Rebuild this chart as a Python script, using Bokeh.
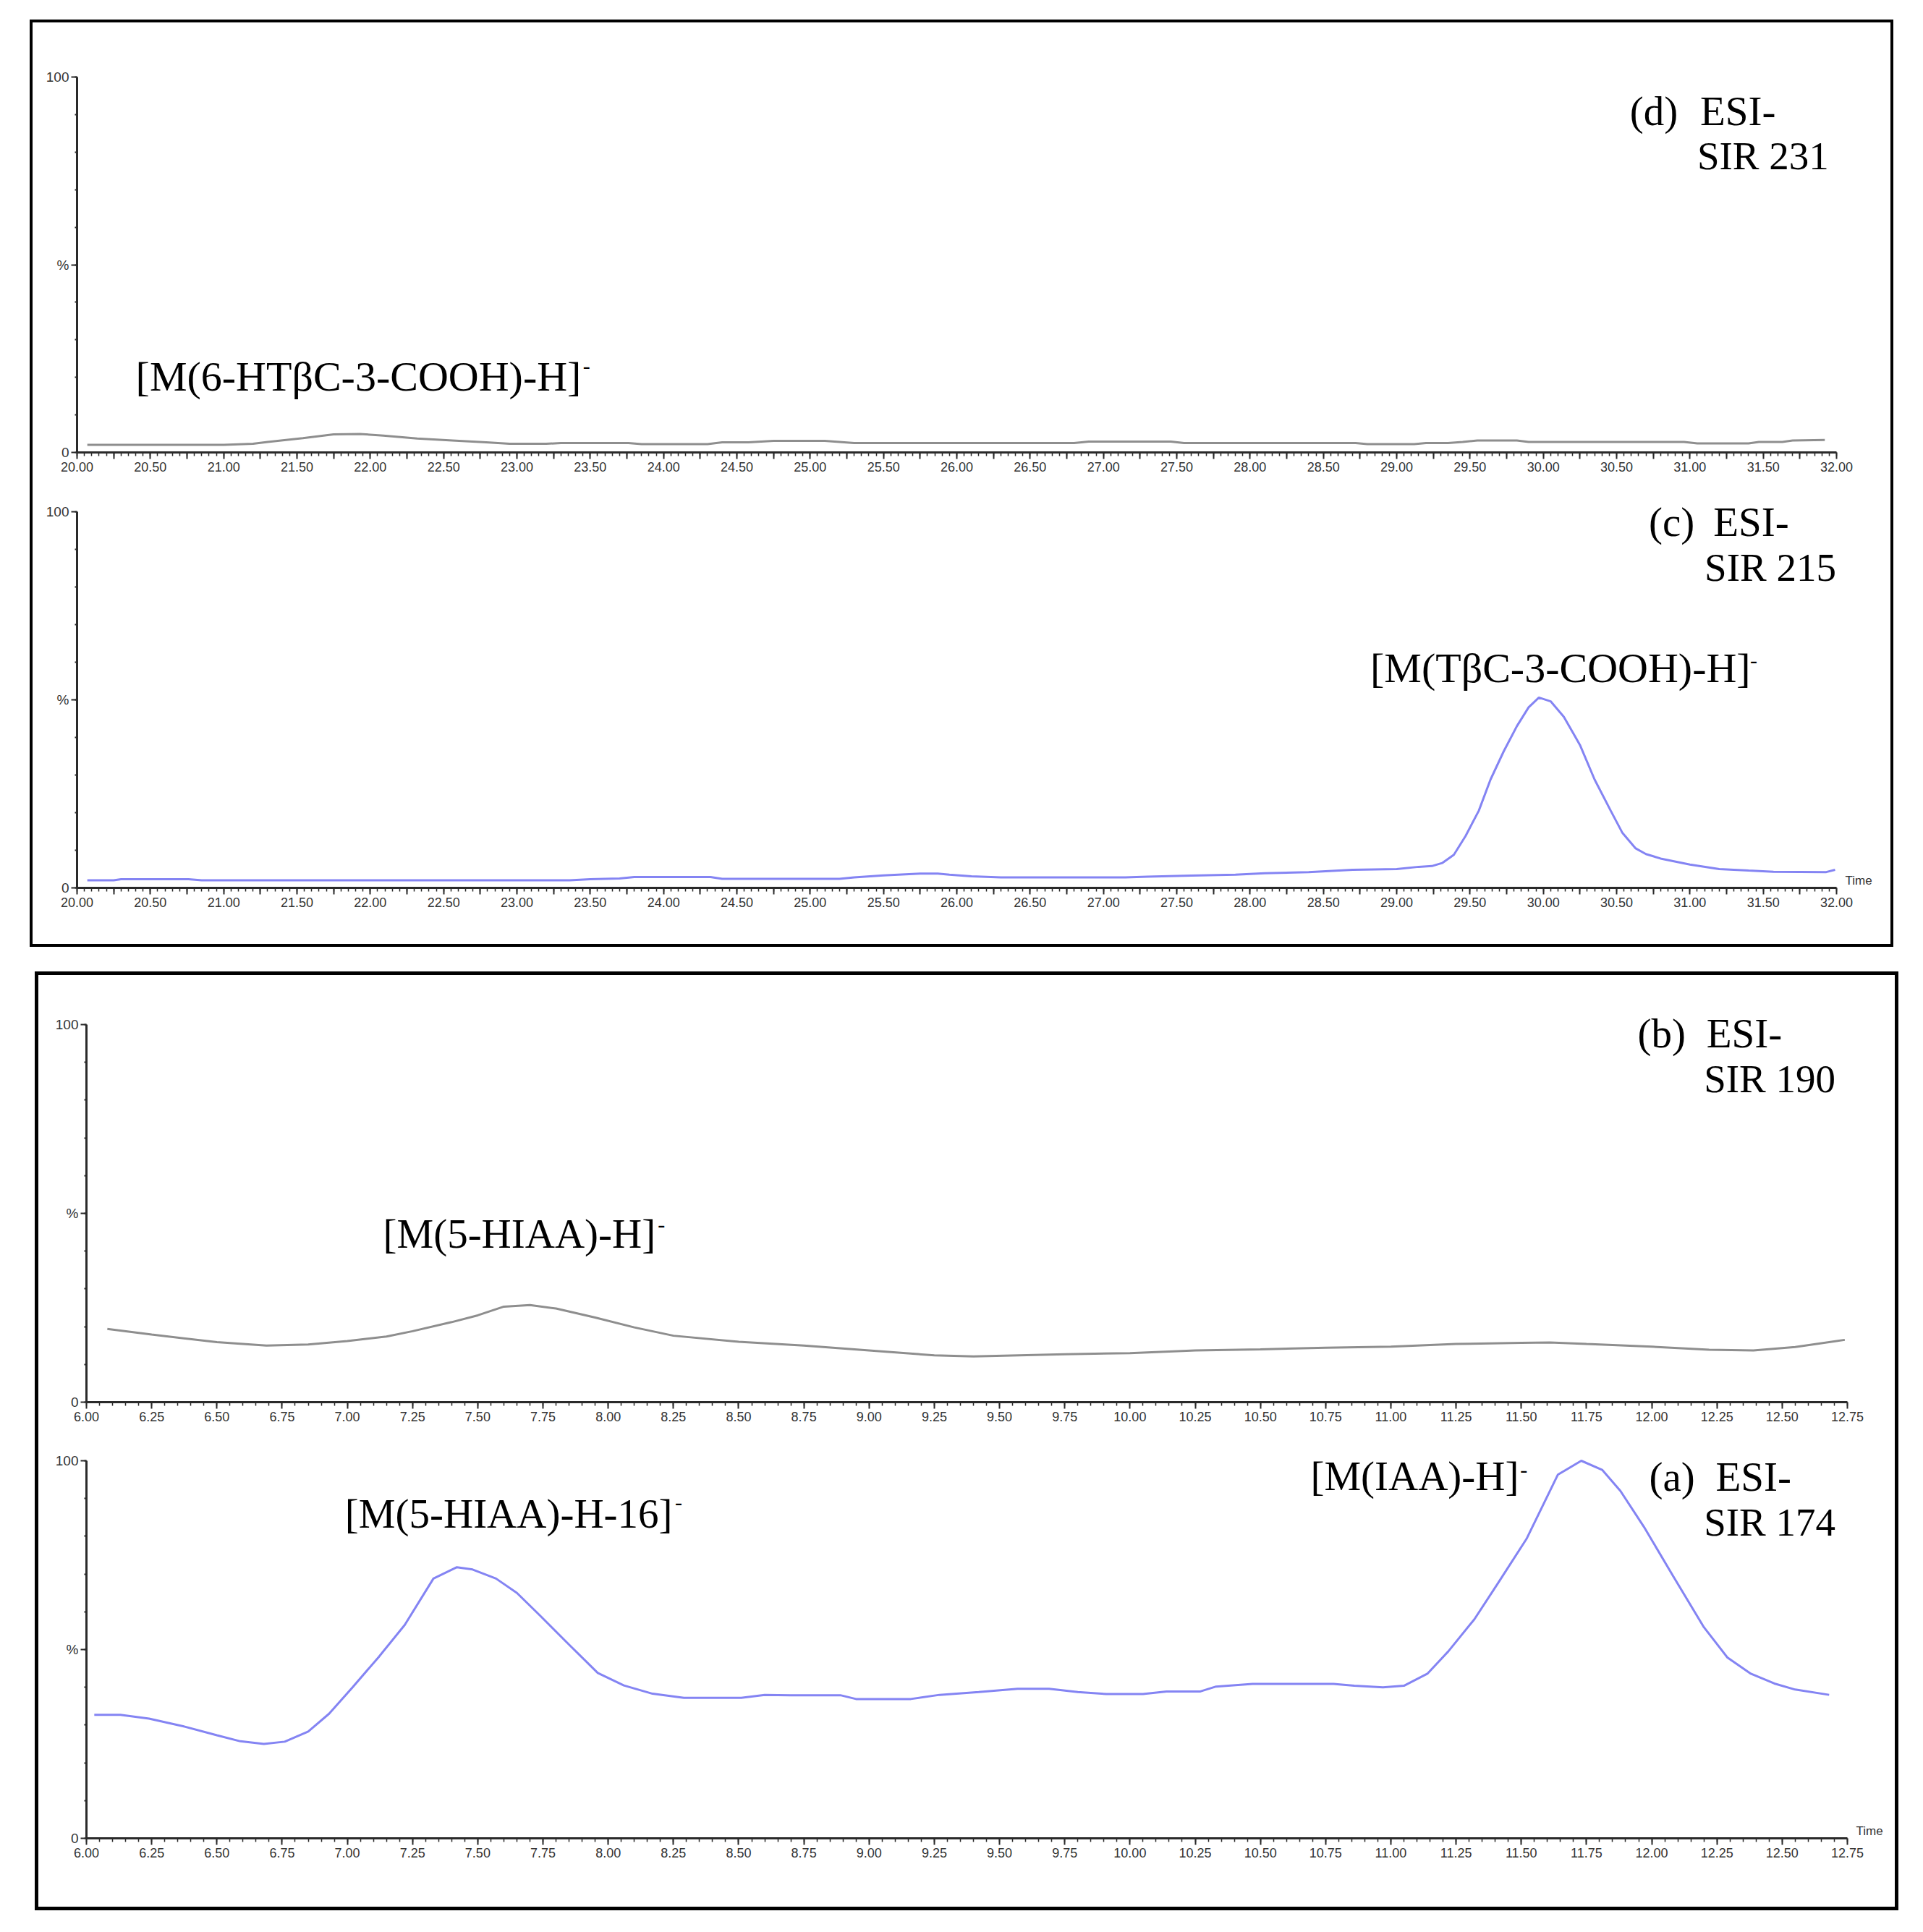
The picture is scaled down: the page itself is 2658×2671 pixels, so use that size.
import numpy as np
from bokeh.plotting import figure
from bokeh.layouts import column
from bokeh.models import FixedTicker, Label, Range1d
from bokeh.embed import file_html
from bokeh.resources import INLINE

# ---------------- data ----------------
# (d) ESI- SIR 231, time (min) and relative intensity (%)
d_time = [20.07, 20.5, 21.0, 21.2, 21.3, 21.54, 21.75, 21.93, 22.09, 22.32, 22.56, 22.79,
          22.95, 23.2, 23.3, 23.76, 23.85, 24.3, 24.4, 24.58, 24.75, 25.1, 25.3, 25.9,
          26.8, 26.9, 27.46, 27.55, 28.72, 28.8, 29.12, 29.2, 29.35, 29.45, 29.55, 29.82,
          29.9, 30.96, 31.05, 31.4, 31.47, 31.63, 31.7, 31.92]
d_intensity = [2.0, 2.0, 2.0, 2.3, 2.8, 3.8, 4.8, 4.9, 4.5, 3.7, 3.2, 2.7,
               2.3, 2.3, 2.5, 2.5, 2.2, 2.2, 2.7, 2.7, 3.1, 3.1, 2.5, 2.5,
               2.5, 2.9, 2.9, 2.5, 2.5, 2.2, 2.2, 2.5, 2.5, 2.8, 3.2, 3.2,
               2.8, 2.8, 2.4, 2.4, 2.8, 2.8, 3.2, 3.3]

# (c) ESI- SIR 215
c_time = [20.07, 20.25, 20.3, 20.76, 20.85, 23.36, 23.5, 23.7, 23.8, 24.32, 24.4, 25.2,
          25.3, 25.5, 25.75, 25.87, 25.95, 26.1, 26.3, 27.15, 27.3, 27.6, 27.9, 28.1,
          28.4, 28.7, 29.0, 29.15, 29.24, 29.31, 29.39, 29.47, 29.56, 29.64, 29.73, 29.82,
          29.90, 29.97, 30.05, 30.14, 30.25, 30.35, 30.46, 30.54, 30.63, 30.70, 30.80, 31.00,
          31.20, 31.40, 31.57, 31.93, 31.99]
c_intensity = [2.0, 2.0, 2.3, 2.3, 2.0, 2.0, 2.3, 2.5, 2.9, 2.9, 2.4, 2.4,
               2.8, 3.3, 3.8, 3.8, 3.5, 3.1, 2.8, 2.8, 3.0, 3.25, 3.5, 3.9,
               4.2, 4.8, 5.0, 5.6, 5.8, 6.6, 8.8, 13.8, 20.5, 28.8, 36.3, 43.0,
               48.0, 50.6, 49.6, 45.5, 38.0, 28.8, 20.5, 14.6, 10.5, 9.0, 7.8, 6.2,
               5.0, 4.6, 4.3, 4.2, 4.8]

# (b) ESI- SIR 190
b_time = [6.08, 6.25, 6.50, 6.69, 6.85, 7.00, 7.15, 7.25, 7.40, 7.50, 7.60, 7.70,
          7.80, 7.95, 8.10, 8.25, 8.50, 8.75, 9.00, 9.25, 9.40, 9.75, 10.00, 10.25,
          10.50, 10.75, 11.00, 11.25, 11.50, 11.61, 11.75, 12.00, 12.22, 12.39, 12.55, 12.74]
b_intensity = [19.4, 17.9, 15.9, 15.0, 15.3, 16.2, 17.4, 18.8, 21.2, 23.0, 25.3, 25.7,
               24.8, 22.4, 19.8, 17.6, 16.0, 15.0, 13.7, 12.4, 12.1, 12.7, 13.0, 13.7,
               14.0, 14.4, 14.7, 15.4, 15.7, 15.8, 15.4, 14.7, 13.9, 13.7, 14.6, 16.5]

# (a) ESI- SIR 174
a_time = [6.03, 6.13, 6.24, 6.37, 6.50, 6.59, 6.68, 6.76, 6.85, 6.93, 7.02, 7.12,
          7.22, 7.33, 7.42, 7.48, 7.57, 7.65, 7.74, 7.85, 7.96, 8.06, 8.17, 8.29,
          8.51, 8.60, 8.70, 8.89, 8.95, 9.16, 9.27, 9.42, 9.57, 9.69, 9.80, 9.91,
          10.05, 10.14, 10.27, 10.33, 10.47, 10.78, 10.86, 10.97, 11.05, 11.14, 11.22, 11.32,
          11.41, 11.52, 11.64, 11.73, 11.81, 11.88, 11.97, 12.08, 12.20, 12.29, 12.38, 12.47,
          12.55, 12.68]
a_intensity = [32.7, 32.7, 31.7, 29.7, 27.3, 25.7, 25.0, 25.6, 28.3, 33.0, 40.0, 48.0,
               56.5, 68.8, 71.8, 71.2, 68.8, 65.0, 58.9, 51.3, 43.8, 40.5, 38.3, 37.2,
               37.2, 38.0, 37.9, 37.9, 36.9, 36.9, 38.0, 38.75, 39.6, 39.6, 38.75, 38.2,
               38.2, 38.9, 38.9, 40.2, 40.9, 40.9, 40.4, 40.0, 40.4, 43.6, 49.5, 58.0,
               67.5, 79.3, 96.3, 100.0, 97.6, 92.0, 82.5, 69.7, 55.9, 47.9, 43.6, 41.0,
               39.4, 38.0]

# tick labels
top_time_labels = ["20.00", "20.50", "21.00", "21.50", "22.00", "22.50", "23.00", "23.50",
                   "24.00", "24.50", "25.00", "25.50", "26.00", "26.50", "27.00", "27.50",
                   "28.00", "28.50", "29.00", "29.50", "30.00", "30.50", "31.00", "31.50",
                   "32.00"]
bottom_time_labels = ["6.00", "6.25", "6.50", "6.75", "7.00", "7.25", "7.50", "7.75",
                      "8.00", "8.25", "8.50", "8.75", "9.00", "9.25", "9.50", "9.75",
                      "10.00", "10.25", "10.50", "10.75", "11.00", "11.25", "11.50", "11.75",
                      "12.00", "12.25", "12.50", "12.75"]
y_tick_values = [0, 50, 100]
y_tick_labels = ["0", "%", "100"]

# ---------------- styling ----------------
GREY = "#8e8e8e"
BLUE = "#8484f3"
SERIF = "Liberation Serif"
SANS = "Liberation Sans"
AX = "#2a2a2a"
TICK_TXT = "#333333"


def panel(t, v, labels, quarter_blank, color, W, H,
          axis_left, axis_right, frame_right, top100, zero, frame_top, time_label):
    vals = [float(s) for s in labels]
    x0, x1 = vals[0], vals[-1]
    sx = (axis_right - axis_left) / (x1 - x0)
    x_end = x0 + (frame_right - axis_left) / sx
    sy = (zero - top100) / 100.0
    y_end = (zero - frame_top) / sy
    p = figure(width=W, height=H, x_range=Range1d(x0, x_end), y_range=Range1d(0, y_end),
               output_backend="svg", toolbar_location=None,
               min_border_left=axis_left, min_border_right=W - frame_right,
               min_border_top=frame_top, min_border_bottom=H - zero)
    p.xgrid.visible = False
    p.ygrid.visible = False
    p.outline_line_color = None
    p.background_fill_color = "white"
    p.border_fill_color = "white"
    p.line(t, v, line_color=color, line_width=3)

    overrides = {}
    ticks = []
    for val, s in zip(vals, labels):
        ticks.append(val)
        overrides[val] = s
    if quarter_blank:
        for val in vals[:-1]:
            q = round(val + 0.25, 2)
            ticks.append(q)
            overrides[q] = ""
    ticks = sorted(ticks)
    n_minor = int(round((x1 - x0) / 0.05))
    minor = [round(x0 + 0.05 * i, 2) for i in range(n_minor + 1)]

    xa = p.xaxis[0]
    xa.bounds = (x0, x1)
    xa.ticker = FixedTicker(ticks=ticks, minor_ticks=minor)
    xa.major_label_overrides = overrides
    xa.major_label_text_font = SANS
    xa.major_label_text_font_size = "18px"
    xa.major_label_text_color = TICK_TXT
    xa.major_label_standoff = 4
    xa.axis_line_width = 3
    xa.axis_line_color = AX
    xa.major_tick_line_color = AX
    xa.minor_tick_line_color = AX
    xa.major_tick_line_width = 2
    xa.minor_tick_line_width = 1.5
    xa.major_tick_out = 9
    xa.major_tick_in = 0
    xa.minor_tick_out = 5
    xa.minor_tick_in = 0

    ya = p.yaxis[0]
    ya.bounds = (0, 100)
    ya.ticker = FixedTicker(ticks=y_tick_values, minor_ticks=list(range(0, 101, 10)))
    ya.major_label_overrides = dict(zip(y_tick_values, y_tick_labels))
    ya.major_label_text_font = SANS
    ya.major_label_text_font_size = "19px"
    ya.major_label_text_color = TICK_TXT
    ya.major_label_standoff = 3
    ya.axis_line_width = 3
    ya.axis_line_color = AX
    ya.major_tick_line_color = AX
    ya.minor_tick_line_color = AX
    ya.major_tick_line_width = 2
    ya.minor_tick_line_width = 2
    ya.major_tick_out = 8
    ya.major_tick_in = 0
    ya.minor_tick_out = 3
    ya.minor_tick_in = 0

    if time_label:
        p.add_layout(Label(x=x1, y=0, x_offset=12, y_offset=1, text="Time",
                           text_font=SANS, text_font_size="17px", text_color=TICK_TXT,
                           text_baseline="bottom", text_align="left"))
    return p


def txt(p, x, y, s, size="57px"):
    p.add_layout(Label(x=x, y=y, text=s, text_font=SERIF, text_font_size=size,
                       text_color="black", text_baseline="middle", text_align="left"))


# box 1: (d) and (c)   (pixel positions inside each canvas)
p_d = panel(d_time, d_intensity, top_time_labels, True, GREY, 2568, 635,
            61, 2493, 2563, 75, 594, 9, False)
p_c = panel(c_time, c_intensity, top_time_labels, True, BLUE, 2568, 639,
            61, 2493, 2563, 41, 561, 6, True)
# box 2: (b) and (a)
p_b = panel(b_time, b_intensity, bottom_time_labels, False, GREY, 2566, 630,
            66, 2500, 2560, 68, 590, 8, False)
p_a = panel(a_time, a_intensity, bottom_time_labels, False, BLUE, 2566, 658,
            66, 2500, 2560, 41, 563, 6, True)

# annotations (x in minutes, y in %)
txt(p_d, 30.59, 90.9, "(d)")
txt(p_d, 31.07, 90.9, "ESI-")
txt(p_d, 31.05, 79.0, "SIR 231", "55px")
txt(p_d, 20.40, 20.2, "[M(6-HTβC-3-COOH)-H]", "58px")
txt(p_d, 23.45, 22.9, "-", "30px")

txt(p_c, 30.72, 97.3, "(c)")
txt(p_c, 31.16, 97.3, "ESI-")
txt(p_c, 31.10, 85.2, "SIR 215", "55px")
txt(p_c, 28.82, 58.5, "[M(TβC-3-COOH)-H]", "58px")
txt(p_c, 31.41, 60.4, "-", "30px")

txt(p_b, 11.946, 97.7, "(b)")
txt(p_b, 12.21, 97.7, "ESI-")
txt(p_b, 12.20, 85.6, "SIR 190", "55px")
txt(p_b, 7.137, 44.7, "[M(5-HIAA)-H]")
txt(p_b, 8.19, 47.0, "-", "30px")

txt(p_a, 11.99, 95.8, "(a)")
txt(p_a, 12.245, 95.8, "ESI-")
txt(p_a, 12.20, 83.7, "SIR 174", "55px")
txt(p_a, 6.991, 86.0, "[M(5-HIAA)-H-16]")
txt(p_a, 8.256, 88.8, "-", "30px")
txt(p_a, 10.692, 96.0, "[M(IAA)-H]")
txt(p_a, 11.496, 97.6, "-", "30px")

box1 = column(p_d, p_c, styles={"border": "4px solid #000000"}, margin=(27, 0, 0, 41))
box2 = column(p_b, p_a, styles={"border": "5px solid #000000"}, margin=(34, 0, 0, 48))
root = column(box1, box2)

open("out.html", "w").write(file_html(root, INLINE))
